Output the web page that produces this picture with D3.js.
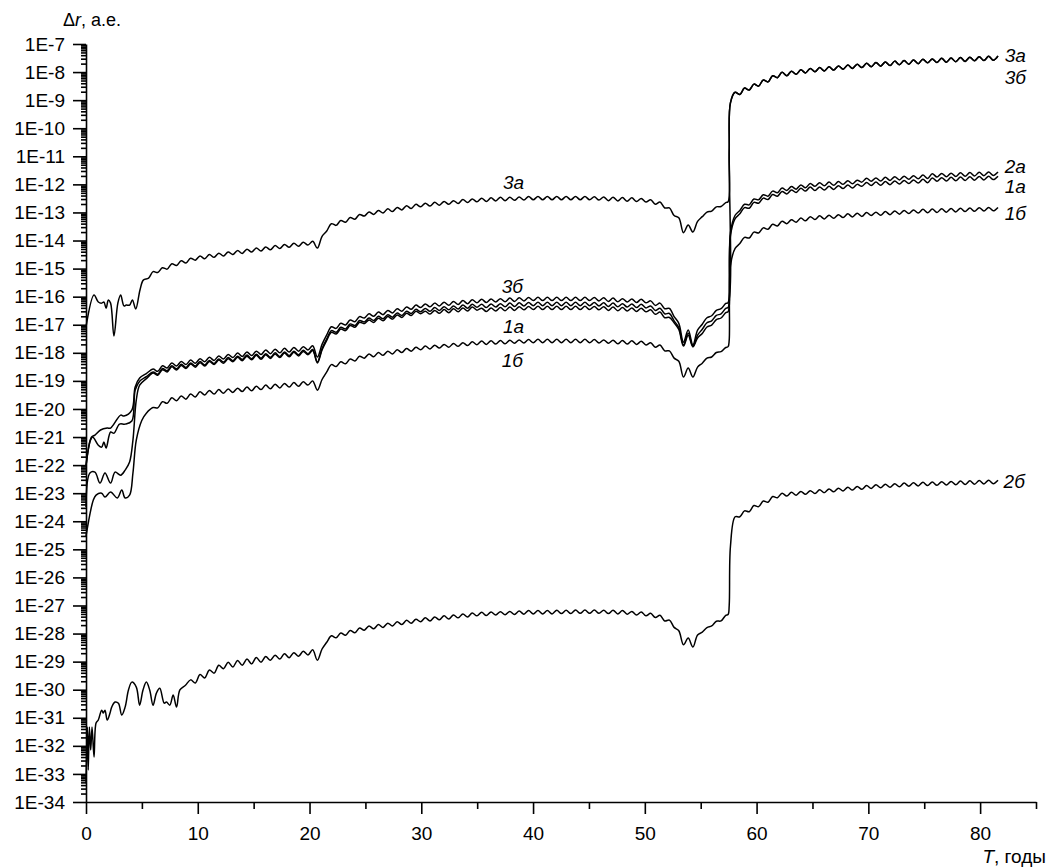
<!DOCTYPE html>
<html>
<head>
<meta charset="utf-8">
<script src="https://cdn.jsdelivr.net/npm/d3@7"></script>
<style>
  body { margin: 0; background: #fff; }
  svg { display: block; font-family: "Liberation Sans", Arial, sans-serif; }
</style>
</head>
<body>
<div id="chart"></div>
<script>
// Все значения — lg(Δr, а.е.).
// Начальные участки (T < 6 лет) и скачок при T ≈ 57.5 — пары [T, lg Δr];
// волнистые участки — значения на сетке T = 6 + 0.42·k (k = 0..180).
const years = d3.range(181).map(k => +(6 + 0.42 * k).toFixed(2));
const JUMP_K = 123;

// --- 3a
const head3a = [[0,-17.08],[0.72,-15.94],[1.1,-16.19],[1.4,-16.23],[1.6,-16.19],[1.8,-16.41],[2.0,-16.12],[2.2,-16.23],[2.5,-17.40],[2.85,-16.23],[3.1,-15.94],[3.4,-16.33],[3.6,-16.30],[3.9,-16.30],[4.15,-16.12],[4.45,-16.44],[4.83,-15.76],[5.13,-15.41],[5.6,-15.34]];
const wave3a = [
  -15.11,-15.14,-14.97,-15.02,-14.83,-14.89,-14.72,-14.80,-14.63,-14.70,
  -14.55,-14.65,-14.50,-14.60,-14.45,-14.55,-14.41,-14.50,-14.36,-14.46,
  -14.31,-14.41,-14.27,-14.37,-14.23,-14.33,-14.18,-14.28,-14.14,-14.24,
  -14.10,-14.20,-14.06,-14.16,-14.03,-14.27,-13.85,-13.66,-13.40,-13.46,
  -13.29,-13.35,-13.18,-13.24,-13.07,-13.13,-12.98,-13.07,-12.93,-13.02,
  -12.87,-12.97,-12.82,-12.91,-12.76,-12.86,-12.71,-12.80,-12.67,-12.77,
  -12.64,-12.74,-12.61,-12.71,-12.58,-12.68,-12.54,-12.65,-12.52,-12.62,
  -12.49,-12.61,-12.48,-12.59,-12.46,-12.58,-12.46,-12.57,-12.45,-12.56,
  -12.43,-12.55,-12.43,-12.55,-12.43,-12.55,-12.43,-12.55,-12.43,-12.55,
  -12.43,-12.55,-12.43,-12.55,-12.44,-12.56,-12.45,-12.58,-12.46,-12.59,
  -12.47,-12.60,-12.48,-12.61,-12.50,-12.63,-12.55,-12.71,-12.63,-12.84,
  -12.84,-13.11,-13.19,-13.72,-13.45,-13.70,-13.32,-13.15,-12.99,-12.95,
  -12.80,-12.79,-12.65];
const jump3a = [[57.45,-12.62],[57.55,-10.8]];

// --- 3б
const head3b = [[0,-22.03],[0.5,-21.00],[0.8,-20.93],[1.3,-20.75],[1.9,-20.68],[2.2,-20.68],[3.1,-20.22],[3.4,-20.25],[4.1,-20.04],[4.4,-19.22],[4.8,-18.90],[5.4,-18.74]];
const wave3b = [
  -18.58,-18.66,-18.46,-18.54,-18.36,-18.47,-18.31,-18.42,-18.26,-18.37,
  -18.21,-18.32,-18.16,-18.27,-18.11,-18.22,-18.06,-18.17,-18.01,-18.13,
  -17.97,-18.10,-17.94,-18.06,-17.90,-18.03,-17.87,-18.00,-17.84,-17.97,
  -17.81,-17.94,-17.78,-17.90,-17.75,-18.15,-17.70,-17.36,-17.07,-17.13,
  -16.95,-17.01,-16.83,-16.89,-16.71,-16.76,-16.61,-16.70,-16.55,-16.64,
  -16.49,-16.58,-16.43,-16.52,-16.37,-16.45,-16.30,-16.39,-16.26,-16.36,
  -16.23,-16.33,-16.20,-16.31,-16.17,-16.28,-16.14,-16.25,-16.11,-16.22,
  -16.09,-16.21,-16.08,-16.19,-16.07,-16.18,-16.05,-16.17,-16.04,-16.15,
  -16.03,-16.14,-16.02,-16.14,-16.02,-16.14,-16.02,-16.14,-16.02,-16.14,
  -16.02,-16.14,-16.02,-16.14,-16.03,-16.15,-16.04,-16.17,-16.05,-16.18,
  -16.07,-16.19,-16.08,-16.21,-16.09,-16.22,-16.15,-16.31,-16.23,-16.43,
  -16.42,-16.71,-16.95,-17.62,-17.19,-17.72,-17.19,-16.98,-16.75,-16.68,
  -16.49,-16.43,-16.24];
const jump3b = [[57.45,-16.21],[57.55,-10.8]];

// 3a и 3б после скачка совпадают
const tail3 = [
  -9.10,-8.72,-8.80,-8.57,-8.64,-8.43,-8.50,-8.28,-8.35,-8.13,
  -8.20,-8.01,-8.13,-7.97,-8.08,-7.92,-8.03,-7.87,-7.99,-7.84,
  -7.96,-7.81,-7.93,-7.78,-7.90,-7.75,-7.87,-7.72,-7.84,-7.69,
  -7.81,-7.66,-7.79,-7.64,-7.77,-7.61,-7.74,-7.59,-7.72,-7.57,
  -7.70,-7.54,-7.67,-7.53,-7.66,-7.51,-7.65,-7.50,-7.63,-7.48,
  -7.62,-7.47,-7.60,-7.45,-7.59,-7.44,-7.58,-7.43];

// --- 2a
const head2a = [[0,-22.03],[0.4,-21.11],[0.6,-21.00],[1.1,-21.29],[1.4,-21.36],[1.6,-21.18],[1.8,-21.39],[2.2,-20.82],[2.5,-20.86],[3.0,-20.54],[3.5,-20.54],[4.1,-20.43],[4.4,-19.33],[4.8,-19.01],[5.4,-18.85]];
const wave2a = [
  -18.68,-18.76,-18.56,-18.64,-18.46,-18.57,-18.41,-18.52,-18.36,-18.47,
  -18.31,-18.43,-18.27,-18.38,-18.22,-18.33,-18.17,-18.28,-18.12,-18.24,
  -18.08,-18.21,-18.05,-18.19,-18.03,-18.16,-18.00,-18.13,-17.97,-18.10,
  -17.94,-18.07,-17.91,-18.03,-17.88,-18.33,-17.85,-17.50,-17.21,-17.27,
  -17.09,-17.15,-16.97,-17.03,-16.85,-16.90,-16.76,-16.85,-16.70,-16.79,
  -16.64,-16.73,-16.58,-16.67,-16.52,-16.60,-16.45,-16.54,-16.42,-16.52,
  -16.39,-16.49,-16.36,-16.47,-16.33,-16.44,-16.30,-16.41,-16.27,-16.38,
  -16.27,-16.39,-16.26,-16.37,-16.25,-16.36,-16.23,-16.35,-16.22,-16.33,
  -16.21,-16.32,-16.20,-16.32,-16.20,-16.32,-16.20,-16.32,-16.20,-16.32,
  -16.20,-16.32,-16.20,-16.32,-16.21,-16.33,-16.22,-16.35,-16.23,-16.36,
  -16.25,-16.37,-16.26,-16.39,-16.27,-16.40,-16.33,-16.49,-16.41,-16.61,
  -16.60,-16.86,-17.10,-17.72,-17.30,-17.76,-17.37,-17.16,-16.93,-16.86,
  -16.67,-16.61,-16.42];
const jump2a = [[57.45,-16.39],[57.55,-16.2]];
const tail2a = [
  -13.72,-13.10,-12.93,-12.71,-12.73,-12.52,-12.55,-12.37,-12.42,-12.24,
  -12.30,-12.13,-12.22,-12.08,-12.17,-12.02,-12.12,-11.97,-12.07,-11.94,
  -12.05,-11.92,-12.03,-11.90,-12.00,-11.87,-11.98,-11.85,-11.92,-11.78,
  -11.89,-11.77,-11.88,-11.75,-11.86,-11.73,-11.84,-11.71,-11.82,-11.69,
  -11.80,-11.67,-11.79,-11.62,-11.74,-11.61,-11.73,-11.60,-11.72,-11.59,
  -11.71,-11.58,-11.70,-11.57,-11.69,-11.56,-11.68,-11.56];

// --- 1a
const head1a = [[0,-23.49],[0.35,-22.28],[0.8,-22.25],[1.25,-22.64],[1.7,-22.28],[2.2,-22.64],[2.6,-22.25],[3.1,-22.36],[3.5,-22.18],[3.9,-21.89],[4.2,-21.11],[4.5,-19.68],[4.8,-19.15],[5.4,-18.92]];
const wave1a = [
  -18.72,-18.80,-18.60,-18.68,-18.50,-18.61,-18.45,-18.56,-18.40,-18.51,
  -18.35,-18.47,-18.31,-18.42,-18.26,-18.37,-18.21,-18.32,-18.16,-18.28,
  -18.12,-18.25,-18.09,-18.23,-18.07,-18.20,-18.04,-18.17,-18.01,-18.14,
  -17.98,-18.11,-17.95,-18.07,-17.92,-18.36,-17.90,-17.56,-17.27,-17.33,
  -17.15,-17.21,-17.03,-17.09,-16.91,-16.96,-16.83,-16.92,-16.77,-16.86,
  -16.71,-16.80,-16.65,-16.74,-16.59,-16.67,-16.52,-16.61,-16.52,-16.62,
  -16.49,-16.59,-16.46,-16.57,-16.43,-16.54,-16.40,-16.51,-16.37,-16.48,
  -16.41,-16.53,-16.40,-16.51,-16.39,-16.50,-16.37,-16.49,-16.36,-16.47,
  -16.35,-16.46,-16.34,-16.46,-16.34,-16.46,-16.34,-16.46,-16.34,-16.46,
  -16.34,-16.46,-16.34,-16.46,-16.35,-16.47,-16.36,-16.49,-16.37,-16.50,
  -16.39,-16.51,-16.40,-16.53,-16.41,-16.54,-16.47,-16.63,-16.55,-16.75,
  -16.74,-16.93,-17.17,-17.76,-17.37,-17.79,-17.47,-17.31,-17.08,-17.01,
  -16.82,-16.76,-16.57];
const jump1a = [[57.45,-16.54],[57.55,-16.35]];
const tail1a = [
  -13.84,-13.22,-13.05,-12.83,-12.85,-12.64,-12.67,-12.49,-12.54,-12.36,
  -12.42,-12.25,-12.34,-12.20,-12.29,-12.14,-12.24,-12.09,-12.22,-12.09,
  -12.20,-12.07,-12.18,-12.05,-12.15,-12.02,-12.13,-12.00,-12.07,-11.93,
  -12.04,-11.92,-12.03,-11.90,-12.01,-11.88,-11.99,-11.86,-11.97,-11.84,
  -11.95,-11.82,-11.94,-11.77,-11.89,-11.76,-11.88,-11.75,-11.87,-11.74,
  -11.86,-11.73,-11.85,-11.72,-11.84,-11.71,-11.83,-11.71];

// --- 1б
const head1b = [[0,-24.53],[0.65,-23.25],[0.9,-23.07],[1.4,-23.00],[1.7,-23.14],[2.2,-22.96],[2.8,-23.17],[3.2,-22.89],[3.5,-23.17],[3.9,-23.07],[4.2,-22.28],[4.5,-21.11],[5.0,-20.40],[5.4,-20.15]];
const wave1b = [
  -19.95,-19.96,-19.74,-19.80,-19.60,-19.71,-19.54,-19.65,-19.47,-19.57,
  -19.39,-19.50,-19.34,-19.47,-19.31,-19.44,-19.29,-19.41,-19.26,-19.38,
  -19.22,-19.35,-19.19,-19.31,-19.15,-19.28,-19.12,-19.25,-19.09,-19.22,
  -19.06,-19.19,-19.03,-19.15,-19.00,-19.33,-18.95,-18.68,-18.42,-18.49,
  -18.32,-18.39,-18.22,-18.29,-18.12,-18.19,-18.04,-18.14,-17.99,-18.09,
  -17.94,-18.04,-17.89,-17.99,-17.85,-17.94,-17.80,-17.89,-17.76,-17.86,
  -17.73,-17.83,-17.70,-17.80,-17.67,-17.77,-17.64,-17.74,-17.61,-17.71,
  -17.58,-17.70,-17.57,-17.69,-17.56,-17.68,-17.55,-17.66,-17.54,-17.65,
  -17.53,-17.64,-17.52,-17.64,-17.52,-17.64,-17.52,-17.64,-17.52,-17.64,
  -17.52,-17.64,-17.52,-17.64,-17.53,-17.65,-17.54,-17.66,-17.55,-17.68,
  -17.56,-17.69,-17.57,-17.70,-17.59,-17.72,-17.64,-17.80,-17.72,-17.93,
  -17.93,-18.19,-18.30,-18.86,-18.54,-18.86,-18.51,-18.37,-18.19,-18.15,
  -17.99,-17.96,-17.81];
const jump1b = [[57.45,-17.78],[57.55,-17.55]];
const tail1b = [
  -14.90,-14.28,-14.11,-13.89,-13.91,-13.70,-13.73,-13.55,-13.60,-13.42,
  -13.48,-13.31,-13.40,-13.26,-13.35,-13.20,-13.30,-13.15,-13.25,-13.12,
  -13.23,-13.10,-13.21,-13.08,-13.18,-13.05,-13.16,-13.03,-13.14,-13.00,
  -13.11,-12.99,-13.10,-12.97,-13.08,-12.95,-13.06,-12.93,-13.04,-12.91,
  -13.02,-12.89,-13.01,-12.88,-13.00,-12.87,-12.99,-12.86,-12.98,-12.85,
  -12.97,-12.84,-12.96,-12.83,-12.95,-12.82,-12.94,-12.82];

// --- 2б (волнистый участок начинается с k = 8)
const head2b = [[0,-33.33],[0.12,-31.33],[0.2,-32.86],[0.3,-31.33],[0.42,-32.15],[0.54,-31.33],[0.72,-32.40],[0.9,-31.19],[1.1,-31.08],[1.4,-30.73],[1.55,-30.83],[1.7,-30.73],[1.9,-31.08],[2.15,-30.83],[2.3,-30.62],[2.6,-30.44],[2.9,-30.48],[3.2,-30.90],[3.5,-30.62],[3.8,-30.01],[4.1,-29.73],[4.5,-29.91],[4.8,-30.55],[5.1,-30.01],[5.4,-29.73],[5.7,-30.01],[6.0,-30.55],[6.3,-30.12],[6.6,-29.95],[7.0,-30.48],[7.2,-30.44],[7.5,-30.55],[7.8,-30.19],[8.1,-30.62],[8.4,-30.01],[8.9,-29.84]];
const wave2b = [
  -29.65,-29.76,
  -29.46,-29.58,-29.30,-29.41,-29.13,-29.25,-29.02,-29.19,-28.96,-29.13,
  -28.91,-29.08,-28.85,-29.02,-28.82,-28.95,-28.77,-28.91,-28.72,-28.86,
  -28.68,-28.81,-28.63,-28.76,-28.58,-28.95,-28.55,-28.31,-28.08,-28.15,
  -27.98,-28.06,-27.89,-27.97,-27.80,-27.88,-27.73,-27.83,-27.68,-27.78,
  -27.63,-27.73,-27.58,-27.68,-27.53,-27.63,-27.49,-27.58,-27.44,-27.55,
  -27.41,-27.51,-27.37,-27.48,-27.34,-27.44,-27.30,-27.41,-27.27,-27.37,
  -27.24,-27.36,-27.23,-27.34,-27.22,-27.33,-27.21,-27.32,-27.20,-27.31,
  -27.18,-27.30,-27.18,-27.30,-27.18,-27.30,-27.17,-27.29,-27.17,-27.29,
  -27.16,-27.28,-27.16,-27.28,-27.16,-27.28,-27.17,-27.29,-27.17,-27.30,
  -27.18,-27.31,-27.21,-27.34,-27.23,-27.37,-27.28,-27.43,-27.35,-27.55,
  -27.52,-27.78,-27.90,-28.40,-28.16,-28.48,-28.05,-27.95,-27.79,-27.73,
  -27.56,-27.55,-27.35];
const jump2b = [[57.45,-27.32],[57.55,-27.0]];
const tail2b = [
  -24.90,-23.84,-23.84,-23.63,-23.66,-23.44,-23.48,-23.28,-23.32,-23.12,
  -23.16,-23.00,-23.10,-22.97,-23.07,-22.94,-23.04,-22.91,-23.01,-22.88,
  -22.98,-22.85,-22.95,-22.82,-22.92,-22.79,-22.89,-22.76,-22.86,-22.73,
  -22.83,-22.70,-22.81,-22.68,-22.79,-22.66,-22.77,-22.64,-22.75,-22.63,
  -22.74,-22.61,-22.73,-22.60,-22.72,-22.59,-22.71,-22.58,-22.70,-22.57,
  -22.69,-22.56,-22.68,-22.55,-22.67,-22.54,-22.66,-22.54];

// подписи кривых: [текст, T, lg Δr базовой линии]
const curveLabels = [
  ['3a', 37.3, -12.17], ['3б', 37.2, -15.87], ['1a', 37.3, -17.30], ['1б', 37.2, -18.51],
  ['3a', 82.2, -7.64], ['3б', 82.2, -8.42], ['2a', 82.2, -11.60], ['1a', 82.2, -12.31],
  ['1б', 82.2, -13.27], ['2б', 82.1, -22.82]
];

const xMajor = d3.range(0, 81, 10);
const xMinor = d3.range(5, 86, 10);
const yPowers = d3.range(-34, -6);

// склейка участков в одну кривую
function build(head, wave, from, jump, tail) {
  return head
    .concat(wave.map((v, i) => [years[from + i], v]))
    .concat(jump)
    .concat(tail.map((v, i) => [years[JUMP_K + i], v]));
}

const series = [
  build(head3a, wave3a, 0, jump3a, tail3),
  build(head3b, wave3b, 0, jump3b, tail3),
  build(head2a, wave2a, 0, jump2a, tail2a),
  build(head1a, wave1a, 0, jump1a, tail1a),
  build(head1b, wave1b, 0, jump1b, tail1b),
  build(head2b, wave2b, 8, jump2b, tail2b)
];

const width = 1048, height = 867;
const x = d3.scaleLinear().domain([0, 85]).range([86, 1036]);
const y = d3.scaleLog().domain([1e-34, 1e-7]).range([802, 44]);

const svg = d3.select('#chart').append('svg')
  .attr('width', width)
  .attr('height', height);

// ось X
svg.append('g')
  .attr('transform', `translate(0,${y.range()[0]})`)
  .call(d3.axisBottom(x).tickValues(xMajor).tickSize(12).tickSizeOuter(0).tickPadding(13));
svg.append('g')
  .attr('transform', `translate(0,${y.range()[0]})`)
  .call(d3.axisBottom(x).tickValues(xMinor).tickSize(7).tickSizeOuter(0).tickFormat(''))
  .select('.domain').remove();

// ось Y: большие деления — декады, малые — 2..9
const yMinorVals = [];
yPowers.slice(0, -1).forEach(p => { for (let k = 2; k <= 9; k++) yMinorVals.push(k * Math.pow(10, p)); });

svg.append('g')
  .attr('transform', `translate(${x.range()[0]},0)`)
  .call(d3.axisLeft(y).tickValues(yPowers.map(p => Math.pow(10, p))).tickSize(13).tickSizeOuter(0).tickPadding(8)
    .tickFormat(d => '1E' + Math.round(Math.log10(d))));
svg.append('g')
  .attr('transform', `translate(${x.range()[0]},0)`)
  .call(d3.axisLeft(y).tickValues(yMinorVals).tickSize(5).tickFormat(''))
  .select('.domain').remove();

svg.selectAll('.domain, .tick line').attr('stroke', '#000').attr('stroke-width', 1.6);
svg.selectAll('.tick text')
  .attr('fill', '#000')
  .style('font-size', '19px')
  .style('font-family', '"Liberation Sans", Arial, sans-serif');

// кривые (центростремительный сплайн — плавные волны без петель на скачках)
const line = d3.line()
  .x(d => x(d[0]))
  .y(d => y(Math.pow(10, d[1])))
  .curve(d3.curveCatmullRom.alpha(0.5));

svg.append('g')
  .selectAll('path')
  .data(series)
  .join('path')
  .attr('d', line)
  .attr('fill', 'none')
  .attr('stroke', '#000')
  .attr('stroke-width', 1.5)
  .attr('stroke-linejoin', 'round');

// подписи кривых
svg.append('g')
  .selectAll('text')
  .data(curveLabels)
  .join('text')
  .attr('x', d => x(d[1]))
  .attr('y', d => y(Math.pow(10, d[2])))
  .style('font-size', '19px')
  .style('font-style', 'italic')
  .text(d => d[0]);

// заголовки осей
const yTitle = svg.append('text')
  .attr('x', 63)
  .attr('y', 26)
  .style('font-size', '18px');
yTitle.append('tspan').text('Δ');
yTitle.append('tspan').style('font-style', 'italic').text('r');
yTitle.append('tspan').text(', а.е.');

const xTitle = svg.append('text')
  .attr('x', 1046)
  .attr('y', 863)
  .attr('text-anchor', 'end')
  .style('font-size', '19px');
xTitle.append('tspan').style('font-style', 'italic').text('T');
xTitle.append('tspan').text(', годы');
</script>
</body>
</html>
